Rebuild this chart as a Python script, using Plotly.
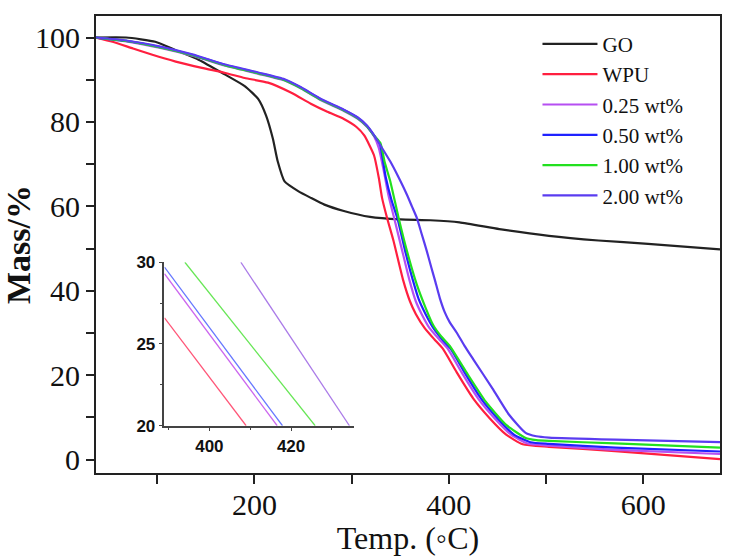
import plotly.graph_objects as go

# ---------------- data ----------------
go_T = [37, 68, 98, 119, 143, 170, 190, 204, 212, 219, 224, 231, 245, 258, 272, 292, 319, 350, 381, 411, 452, 503, 554, 605, 679]
go_M = [100, 100, 99.0, 97.0, 94.7, 91.2, 88.5, 85.4, 81.5, 76.0, 70.6, 65.9, 63.6, 62.0, 60.4, 58.9, 57.5, 56.9, 56.7, 56.2, 54.6, 53.0, 51.9, 51.1, 49.8]

wpu_T = [37, 54, 75, 95, 119, 146, 170, 190, 214, 238, 258, 275, 292, 305, 313, 323, 328, 331.3, 336.4, 343, 353, 360, 366, 375, 385, 394, 408, 425, 442, 459, 476, 503, 571, 679]
wpu_M = [100, 99, 97.4, 95.9, 94.3, 92.8, 91.6, 90.4, 89.3, 86.9, 84.3, 82.4, 80.7, 78.8, 76.8, 72.1, 66.7, 62, 57.3, 51.9, 42.5, 37.5, 34.5, 31.2, 28.5, 26.2, 20.7, 14.5, 9.8, 5.9, 3.6, 3.0, 2.0, 0.1]

w025_T = [37, 68, 102, 136, 170, 204, 231, 248, 268, 292, 306, 316, 323, 328, 333, 338, 344, 352, 359.5, 366, 372, 380, 390, 399, 413, 430, 447, 464, 481, 503, 571, 679]
w025_M = [100, 99.1, 97.6, 95.7, 93.3, 91.4, 89.8, 87.9, 85.2, 82.6, 80.8, 78.8, 76.6, 73.8, 68.5, 62.5, 57.0, 49.5, 42.5, 37.5, 34.5, 31.2, 28.5, 26.2, 20.7, 14.5, 9.8, 5.9, 3.8, 3.3, 2.3, 1.3]

w050_T = [37, 68, 102, 136, 170, 204, 231, 248, 268, 292, 306, 316, 323, 329, 335, 341, 347.3, 355, 363, 369, 376, 384, 393, 402, 416, 433, 450, 467, 484, 503, 571, 679]
w050_M = [100, 99.2, 97.8, 95.9, 93.5, 91.6, 90.0, 88.1, 85.4, 82.8, 81.0, 79.0, 76.8, 74.8, 67, 61.5, 57.0, 49.5, 42.5, 38, 34.5, 31.2, 28.5, 26.2, 20.7, 14.5, 9.8, 5.9, 4.1, 3.7, 2.8, 1.9]

w100_T = [37, 68, 102, 136, 170, 204, 231, 248, 268, 292, 306, 316, 323, 329.6, 334, 339.8, 348.3, 356.8, 367, 376, 384, 392, 401, 418, 438, 459, 479, 490, 503, 571, 679]
w100_M = [100, 99.2, 97.7, 95.8, 93.4, 91.5, 89.9, 88.0, 85.3, 82.7, 80.9, 78.9, 76.8, 75.0, 70.5, 65.9, 57.3, 49.5, 41.5, 36, 31.8, 29.2, 26.9, 20.7, 13.7, 8.2, 5.1, 4.6, 4.4, 3.8, 2.8]

w200_T = [37, 68, 102, 136, 170, 204, 231, 248, 268, 292, 306, 316, 323, 330, 339.8, 348, 356.8, 362, 367, 372, 377.2, 382, 385.7, 390.8, 396, 401, 408, 416, 425, 445, 462, 479, 490, 503, 571, 679]
w200_M = [100, 99.3, 97.9, 96.0, 93.6, 91.7, 90.1, 88.2, 85.5, 82.9, 81.1, 79.1, 76.9, 74.3, 70.6, 67, 62.8, 60, 57.3, 53.5, 49.5, 45.5, 42.5, 38.2, 34.8, 32.5, 30.1, 27, 23.8, 16.8, 10.6, 6.3, 5.5, 5.2, 4.7, 4.1]

# inset (zoomed view, 20-30 %)
in_wpu_T, in_wpu_M = [389, 409], [26.6, 20]
in_025_T, in_025_M = [389, 416.6], [29.3, 20]
in_050_T, in_050_M = [389, 417.9], [29.7, 20]
in_100_T, in_100_M = [394, 425.9], [30, 20]
in_200_T, in_200_M = [407.7, 434.3], [30, 20]

names = ["GO", "WPU", "0.25 wt%", "0.50 wt%", "1.00 wt%", "2.00 wt%"]
colors = ["#222222", "#ff1f3f", "#b64ff2", "#1f22ff", "#22e01f", "#5a3cf0"]
inset_colors = ["#ff5577", "#cc66ee", "#6677ff", "#66e655", "#aa7ae8"]

x_ticks = [200, 400, 600]
x_minor = [100, 300, 500]
y_ticks = [0, 20, 40, 60, 80, 100]
y_minor = [10, 30, 50, 70, 90]
in_x_ticks = [400, 420]
in_x_minor = [390, 410, 430]
in_y_ticks = [20, 25, 30]
in_y_minor = [22.5, 27.5]

# ---------------- figure ----------------
fig = go.Figure()
series = [(go_T, go_M), (wpu_T, wpu_M), (w025_T, w025_M), (w050_T, w050_M), (w100_T, w100_M), (w200_T, w200_M)]
for (t, m), n, c in zip(series, names, colors):
    fig.add_trace(go.Scatter(x=t, y=m, name=n, mode="lines",
                             line=dict(color=c, width=2.2, shape="spline", smoothing=0.5),
                             xaxis="x", yaxis="y"))

inset = [(in_wpu_T, in_wpu_M), (in_025_T, in_025_M), (in_050_T, in_050_M), (in_100_T, in_100_M), (in_200_T, in_200_M)]
for (t, m), c in zip(inset, inset_colors):
    fig.add_trace(go.Scatter(x=t, y=m, mode="lines", showlegend=False,
                             line=dict(color=c, width=1.3), xaxis="x2", yaxis="y2"))

serif = "Liberation Serif, Times New Roman, serif"
sans = "Liberation Sans, Arial, sans-serif"
fig.update_layout(
    width=729, height=556,
    margin=dict(l=93, r=7, t=12, b=80),
    paper_bgcolor="white", plot_bgcolor="white",
    font=dict(family=serif, color="#111111"),
    xaxis=dict(range=[37, 679], tickvals=x_ticks, ticks="outside", ticklen=9, tickwidth=1.5,
               tickcolor="#222", showline=True, linecolor="#222", linewidth=2, mirror=True,
               showgrid=False, zeroline=False, tickfont=dict(size=30, family=serif),
               ticklabelstandoff=-5,
               minor=dict(tickvals=x_minor, ticks="outside", ticklen=9, tickwidth=1.5, tickcolor="#222"),
               title=dict(text="Temp. (◦C)", font=dict(size=32, family=serif), standoff=6)),
    yaxis=dict(range=[-3.2, 105.1], tickvals=y_ticks, ticks="outside", ticklen=8, tickwidth=1.5,
               tickcolor="#222", showline=True, linecolor="#222", linewidth=2, mirror=True,
               showgrid=False, zeroline=False, tickfont=dict(size=30, family=serif),
               minor=dict(tickvals=y_minor, ticks="outside", ticklen=8, tickwidth=1.5, tickcolor="#222"),
               title=dict(text="<b>Mass/%</b>", font=dict(size=34, family=serif), standoff=4)),
    xaxis2=dict(domain=[0.1097, 0.4134], anchor="y2", range=[389, 435.4], tickvals=in_x_ticks,
                ticks="outside", ticklen=4, tickcolor="#444", showline=True, linecolor="#444", linewidth=1.5,
                showgrid=False, zeroline=False,
                minor=dict(tickvals=in_x_minor, ticks="outside", ticklen=3, tickcolor="#444"),
                tickfont=dict(size=17, family=sans, weight="bold")),
    yaxis2=dict(domain=[0.1034, 0.4612], anchor="x2", range=[20, 30], tickvals=in_y_ticks,
                ticks="outside", ticklen=4, tickcolor="#444", showline=True, linecolor="#444", linewidth=1.5,
                showgrid=False, zeroline=False,
                minor=dict(tickvals=in_y_minor, ticks="outside", ticklen=3, tickcolor="#444"),
                tickfont=dict(size=17, family=sans, weight="bold")),
    legend=dict(x=0.7075, y=0.983, xanchor="left", yanchor="top", bgcolor="rgba(0,0,0,0)",
                font=dict(size=21, family=serif), tracegroupgap=0, itemwidth=55),
    showlegend=True,
)

fig.write_html("out.html", config={"displayModeBar": False},
               post_script="document.body.style.margin='0';document.body.style.overflow='hidden';")
